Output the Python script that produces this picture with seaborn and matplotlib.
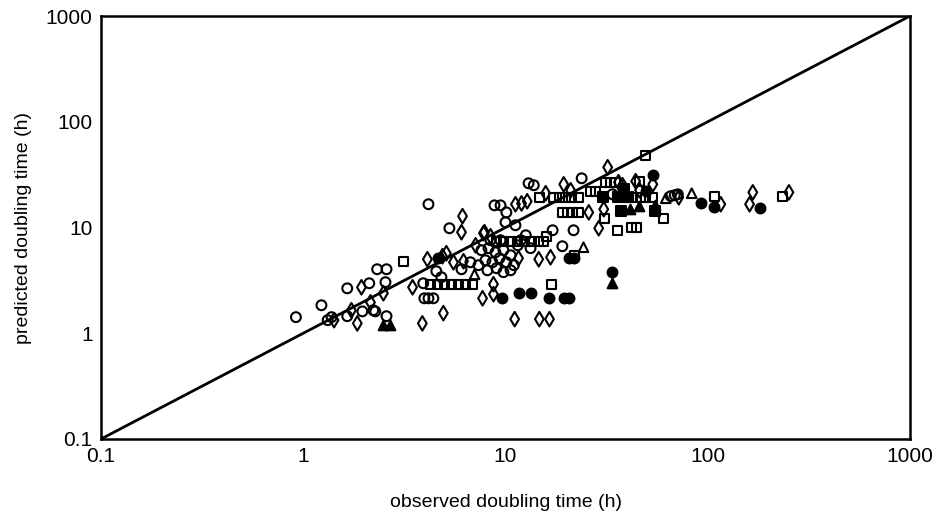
import matplotlib
matplotlib.use("Agg")
import matplotlib.pyplot as plt
import seaborn as sns
import pandas as pd
import numpy as np

# ---- data (observed, predicted doubling time, h) ----
open_circle_obs = [0.92, 1.23, 1.32, 1.38, 1.65, 1.65, 1.96, 2.12, 2.22, 2.27, 2.32, 2.58, 2.55, 2.58,
                   4.16, 5.28, 6.06, 4.55, 4.82, 3.92, 3.97, 4.16, 4.40, 8.82, 9.45, 10.1, 13.0, 13.8,
                   23.8, 21.7, 17.1, 19.1, 33.8, 65.6, 68.7, 71.1,
                   7.60, 8.24, 8.92, 9.77, 10.6, 7.96, 8.62, 9.34, 10.1, 11.0, 8.14, 9.02, 9.77, 10.6,
                   7.35, 6.71, 11.5, 9.45, 8.43, 10.0, 11.2, 12.6, 13.3, 11.9]
open_circle_pred = [1.42, 1.84, 1.33, 1.42, 1.45, 2.66, 1.61, 2.97, 1.65, 1.61, 4.03, 4.03, 3.04, 1.45,
                    16.6, 9.84, 4.03, 3.86, 3.39, 2.97, 2.14, 2.14, 2.14, 16.2, 16.2, 13.9, 26.2, 25.1,
                    29.2, 9.42, 9.42, 6.65, 20.6, 19.8, 20.2, 20.6,
                    6.10, 6.37, 5.83, 6.10, 5.46, 4.90, 4.69, 5.12, 4.69, 4.40, 3.94, 4.12, 3.78, 3.94,
                    4.40, 4.69, 6.79, 7.58, 7.58, 11.2, 10.5, 8.45, 6.37, 7.58]

open_diamond_obs = [1.42, 1.73, 1.85, 1.94, 2.15, 2.49, 3.47, 3.88, 4.93, 6.13, 6.06, 4.11, 4.88, 5.10,
                    5.53, 6.20, 7.78, 11.2, 12.0, 12.8, 15.8, 19.4, 21.0, 32.0, 30.6, 28.9, 25.8,
                    11.6, 14.6, 16.7, 8.72, 8.72, 7.70, 11.1, 14.7, 16.5, 36.2, 37.9, 44.0, 46.0,
                    53.5, 71.9, 116, 167, 161, 252, 7.87, 7.11, 8.43]
open_diamond_pred = [1.33, 1.65, 1.24, 2.72, 1.96, 2.39, 2.72, 1.24, 1.55, 12.8, 9.02, 5.01, 5.35, 5.71,
                     4.69, 4.80, 8.83, 16.6, 16.9, 17.7, 21.1, 25.6, 22.5, 37.1, 14.9, 9.84, 13.9,
                     5.12, 5.01, 5.23, 2.91, 2.34, 2.14, 1.36, 1.36, 1.36, 26.8, 25.1, 27.4, 22.5,
                     25.6, 19.3, 16.6, 21.5, 16.6, 21.5, 9.02, 6.79, 8.26]

open_square_obs = [3.13, 4.25, 4.61, 4.99, 5.41, 5.86, 6.34, 6.87,
                   9.0, 9.8, 10.6, 11.5, 12.4, 13.4, 14.5, 15.5, 16.0,
                   17.3, 18.5, 19.8, 21.2, 23.0, 42.5, 46.6, 49.3, 53.5, 26.3, 27.9, 14.7,
                   19.1, 20.3, 21.5, 23.0, 30.9, 35.8, 31.3, 33.1, 35.0, 46.0, 49.3, 60.6,
                   42.0, 44.5, 108, 235, 16.9, 22.0]
open_square_pred = [4.80, 2.91, 2.91, 2.91, 2.91, 2.91, 2.91, 2.91,
                    7.3, 7.3, 7.3, 7.3, 7.3, 7.3, 7.3, 7.3, 8.26,
                    19.3, 19.3, 19.3, 19.3, 19.3, 19.3, 19.3, 19.3, 19.3, 22.0, 22.0, 19.3,
                    13.9, 13.9, 13.9, 13.9, 12.2, 9.42, 26.8, 26.8, 26.8, 27.4, 48.2, 12.2,
                    10.0, 10.0, 19.8, 19.8, 2.91, 5.46]

open_triangle_obs = [7.03, 24.3, 62.0, 83.3]
open_triangle_pred = [3.61, 6.51, 18.9, 21.1]

filled_circle_obs = [4.66, 9.66, 11.7, 13.4, 16.5, 19.4, 20.5, 20.5, 21.7, 33.5, 53.5, 49.3, 92.2, 107, 181]
filled_circle_pred = [5.12, 2.14, 2.39, 2.39, 2.14, 2.14, 2.14, 5.12, 5.12, 3.78, 31.2, 22.0, 16.9, 15.5, 15.2]

filled_triangle_obs = [2.49, 2.67, 33.5, 41.1, 45.5, 54.7]
filled_triangle_pred = [1.19, 1.19, 2.97, 14.9, 15.9, 16.2]

filled_square_obs = [30.2, 35.8, 37.9, 40.2, 37.1, 38.4, 54.7]
filled_square_pred = [19.3, 19.3, 19.3, 19.3, 14.2, 23.0, 14.2]

ticks = [0.1, 1, 10, 100, 1000]
tick_labels = ["0.1", "1", "10", "100", "1000"]

groups = [
    ("open circle", open_circle_obs, open_circle_pred, "o", False),
    ("open diamond", open_diamond_obs, open_diamond_pred, "d", False),
    ("open square", open_square_obs, open_square_pred, "s", False),
    ("open triangle", open_triangle_obs, open_triangle_pred, "^", False),
    ("filled circle", filled_circle_obs, filled_circle_pred, "o", True),
    ("filled triangle", filled_triangle_obs, filled_triangle_pred, "^", True),
    ("filled square", filled_square_obs, filled_square_pred, "s", True),
]

frames = []
for name, xs, ys, m, f in groups:
    frames.append(pd.DataFrame({"observed": xs, "predicted": ys, "group": name}))
df = pd.concat(frames, ignore_index=True)

sns.set_theme(style="white")
plt.rcParams["font.family"] = ["Liberation Sans", "DejaVu Sans"]

fig = plt.figure(figsize=(9.44, 5.16), dpi=100)
ax = fig.add_axes([101 / 944, 1 - 439 / 516, 809 / 944, 423 / 516])

ax.set_xscale("log")
ax.set_yscale("log")
ax.set_xlim(ticks[0], ticks[-1])
ax.set_ylim(ticks[0], ticks[-1])

# identity line
ax.plot([ticks[0], ticks[-1]], [ticks[0], ticks[-1]], color="black", lw=2.0, zorder=1)

sizes = {"o": 50, "d": 55, "s": 42, "^": 48}
for name, xs, ys, m, f in groups:
    sub = df[df["group"] == name]
    sns.scatterplot(data=sub, x="observed", y="predicted", marker=m, s=sizes[m],
                    facecolor="black" if f else "none", edgecolor="black",
                    linewidth=1.5, ax=ax, zorder=3, legend=False)

ax.set_xticks(ticks)
ax.set_xticklabels(tick_labels)
ax.set_yticks(ticks)
ax.set_yticklabels(tick_labels)
ax.minorticks_off()
ax.tick_params(axis="both", which="major", direction="in", length=4, width=1.2,
               labelsize=15, colors="black", pad=6)

for sp in ax.spines.values():
    sp.set_color("black")
    sp.set_linewidth(1.8)

ax.set_xlabel("observed doubling time (h)", fontsize=14, labelpad=20, color="black")
ax.set_ylabel("predicted doubling time (h)", fontsize=14, labelpad=10, color="black")

fig.savefig("out.png", dpi=100)
